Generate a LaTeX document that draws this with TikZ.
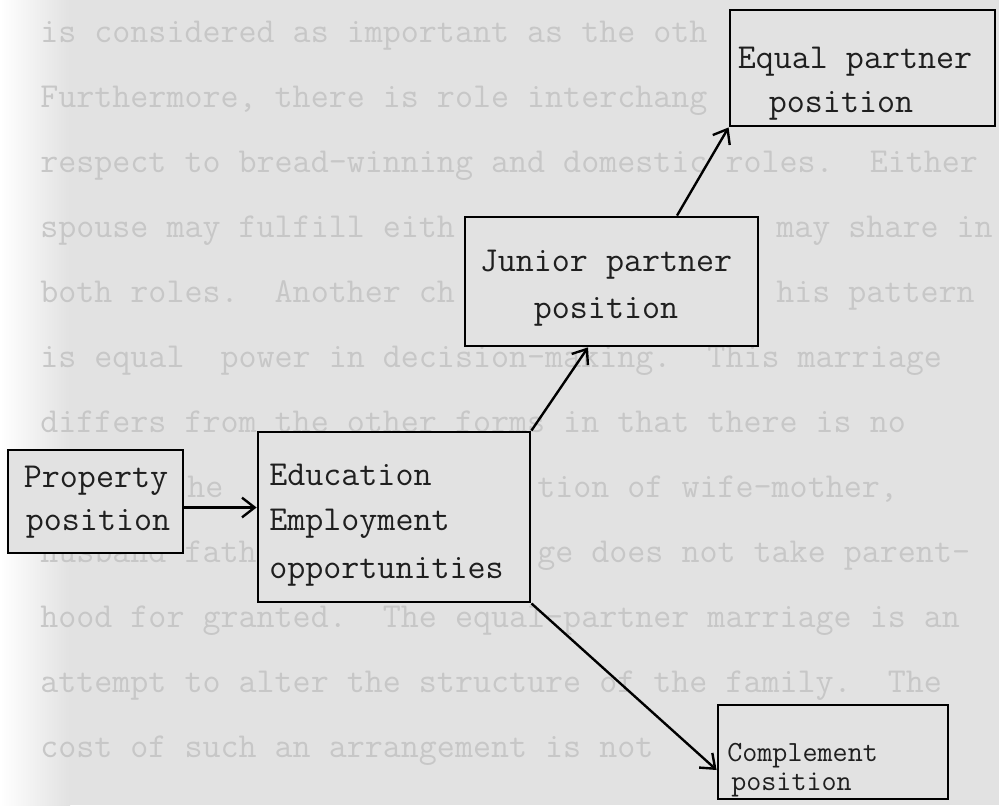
\documentclass[tikz,border=0pt]{standalone}
\usepackage{fontspec}
\usetikzlibrary{arrows.meta,calc,fit}

\definecolor{paper}{gray}{0.885}
\definecolor{showthrough}{gray}{0.78}
\definecolor{typeink}{gray}{0.12}

\newcommand{\TypeFont}{\ttfamily\fontsize{24.9}{32}\selectfont}
\newcommand{\SmallTypeFont}{\ttfamily\fontsize{20.8}{26}\selectfont}

\begin{document}
\frenchspacing
\begin{tikzpicture}
	[x=0.025cm, y=-0.025cm,
	 >={Straight Barb[length=9pt,width=14pt]},
	 box/.style={draw, fill=paper, line width=2pt, inner sep=0pt},
	 typed/.style={anchor=base, inner sep=0pt, text=typeink, font=\TypeFont},
	 typedleft/.style={typed, anchor=base west},
	 faint/.style={anchor=base west, inner sep=0pt, text=showthrough, font=\TypeFont},
	 link/.style={->, line width=1.7pt}]

	% page
	\useasboundingbox (0,0) rectangle (999,805);
	\clip (0,0) rectangle (999,805);
	\fill[paper] (0,0) rectangle (999,805);
	\shade[left color=white, right color=paper] (0,0) rectangle (70,805);

	% typing showing through the page (only the parts left free by the boxes)
	\foreach \x/\k/\Line [count=\i] in {
		40/0/{is considered as important as the oth},
		40/1/{Furthermore, there is role interchang},
		40/2/{respect to bread-winning and domestic roles.~~Either},
		40/3/{spouse may fulfill eith},
		776/3/{may share in},
		40/4/{both roles.~~Another ch},
		776/4/{his pattern},
		40/5/{is equal~~power in decision-making.~~This marriage},
		40/6/{differs from the other forms in that there is no},
		187/7/{he},
		537/7/{tion of wife-mother,},
		40/8/{husband-fath},
		537/8/{ge does not take parent-},
		40/9/{hood for granted.~~The equal-partner marriage is an},
		40/10/{attempt to alter the structure of the family.~~The},
		40/11/{cost of such an arrangement is not}} {
		\node[faint] (bgline\i) at (\x, 42 + 65*\k) {\Line};
	}

	% boxes
	\node[box, fit={(730,10) (995,126)}] (equal) {};
	\node[box, fit={(465,217) (758,346)}] (junior) {};
	\node[box, fit={(8,450) (183,553)}] (property) {};
	\node[box, fit={(258,432) (530,602)}] (education) {};
	\node[box, fit={(718,705) (948,799)}] (complement) {};

	% box texts
	\node[typed] (equal1) at (855,68) {Equal partner};
	\node[typed] (equal2) at (841,112) {position};
	\node[typed] (junior1) at (606,271) {Junior partner};
	\node[typed] (junior2) at (606,318) {position};
	\node[typed] (property1) at (96,487) {Property};
	\node[typed] (property2) at (98,530) {position};
	\node[typedleft] (education1) at (269,485) {Education};
	\node[typedleft] (education2) at (269,530) {Employment};
	\node[typedleft] (education3) at (269,578) {opportunities};
	\node[typedleft, font=\SmallTypeFont] (complement1) at (727,761) {Complement};
	\node[typedleft, font=\SmallTypeFont] (complement2) at (731,790) {position};

	% arrows
	\coordinate (propout) at ($(property.east)+(0,6)$);
	\draw[link] (propout) -- (propout -| education.west);
	\draw[link] (education.north east) -- ($(junior.south)+(-23.5,0)$);
	\draw[link] ($(junior.north)+(65.5,0)$) -- (equal.south west);
	\draw[link] (education.south east) -- ($(complement.west)+(0,18)$);

\end{tikzpicture}
\end{document}
